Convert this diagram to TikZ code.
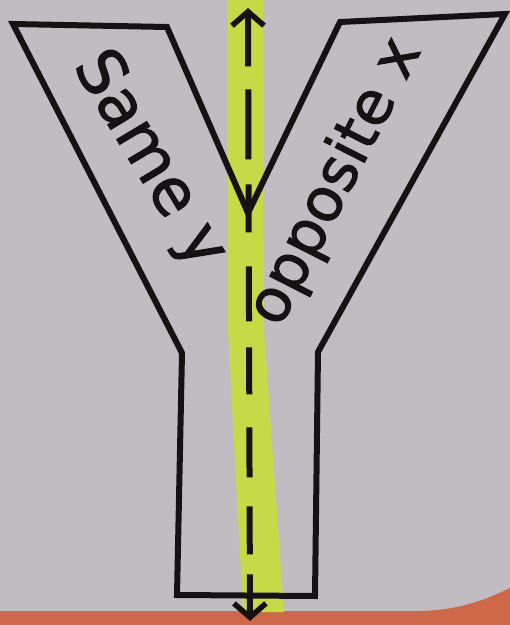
\documentclass[tikz,border=0pt]{standalone}
\usepackage{fontspec}
\usepackage{tikz}
\usetikzlibrary{arrows.meta}
\newfontfamily\handfont[FakeBold=1.6]{DejaVu Sans}

\definecolor{paper}{RGB}{192,188,194}
\definecolor{marker}{RGB}{198,218,72}
\definecolor{tabletop}{RGB}{206,104,72}
\definecolor{ink}{RGB}{22,18,20}

\begin{document}
\begin{tikzpicture}[
  x=1pt, y=-1pt,
  outline/.style={draw=ink, line width=6pt, line join=miter, line cap=round},
  axis/.style={draw=ink, line width=6pt, {Straight Barb[length=14pt, width=32pt, line width=5.5pt]}-{Straight Barb[length=14pt, width=32pt, line width=5.5pt]},
    dash pattern=on 52pt off 23pt on 70pt off 25pt on 48pt off 34pt on 55pt off 26pt on 47pt off 33pt on 50pt off 29pt on 48pt off 20pt on 50pt},
  lab/.style={text=ink, inner sep=0pt}
]

% ---------- paper and table edge ----------
\fill[paper] (0,0) rectangle (510,625);
\useasboundingbox (0,0) rectangle (510,625);
\fill[tabletop] (0,611) -- (420,611) .. controls (460,610) and (485,600) .. (510,588)
  -- (510,625) -- (0,625) -- cycle;

% ---------- highlighter strip ----------
\fill[marker] (227,0) -- (263,0) -- (264,330) -- (284,612) -- (243,612) -- (228,330) -- cycle;

% ---------- the Y ----------
\draw[outline] (13,24) -- (167,27) -- (248,213) -- (340,22) -- (505,14)
  -- (318,352) -- (315,596) -- (177,595) -- (182,353) -- cycle;

% ---------- dashed axis ----------
\coordinate (top) at (248,8);
\coordinate (bot) at (250,621);
\draw[axis] (top) -- (bot);

% ---------- labels ----------
\node[lab, rotate=-59, font=\handfont\fontsize{64}{64}\selectfont] (samey) at (149,160) {Same y};
\node[lab, rotate=63, font=\handfont\fontsize{60}{60}\selectfont] (oppx) at (336,182) {opposite x};

\end{tikzpicture}
\end{document}
